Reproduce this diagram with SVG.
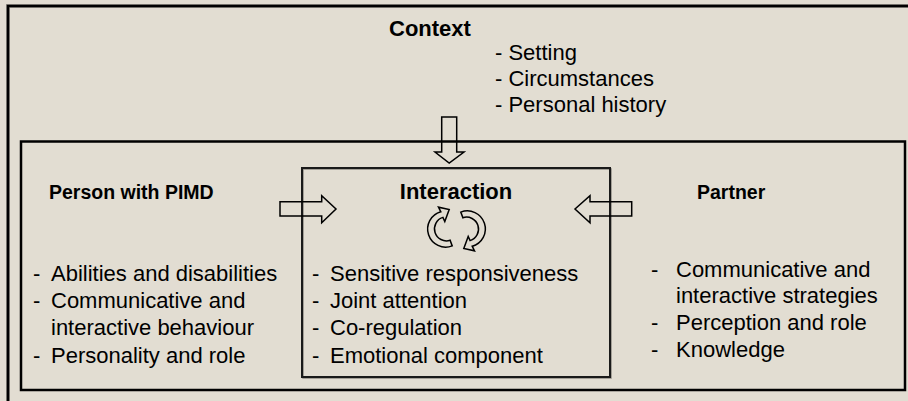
<svg xmlns="http://www.w3.org/2000/svg" width="908" height="401" viewBox="0 0 908 401">
<style>
  .t { font-family: "Liberation Sans", Arial, sans-serif; font-size: 22px; fill: #000; }
  .b { font-family: "Liberation Sans", Arial, sans-serif; font-size: 22px; font-weight: bold; fill: #000; }
  .h { font-family: "Liberation Sans", Arial, sans-serif; font-size: 19.5px; font-weight: bold; fill: #000; }
  .frame { fill: none; stroke: #000; stroke-width: 2.5; }
  .arrow { fill: none; stroke: #000; stroke-width: 1.5; stroke-linejoin: miter; }
</style>
<rect x="0" y="0" width="908" height="401" fill="#E2DDD2"/>
<g id="context">
  <rect x="8" y="6" width="920" height="420" fill="none" stroke="#9a968e" stroke-width="4"/>
  <rect class="frame" x="8" y="6" width="920" height="420"/>
  <text class="b" x="389" y="36">Context</text>
  <text class="t" x="495" y="60">- Setting</text>
  <text class="t" x="495" y="86">- Circumstances</text>
  <text class="t" x="495" y="112">- Personal history</text>
</g>
<g id="inner">
  <rect class="frame" x="21" y="141.5" width="884" height="248.5"/>
</g>
<g id="person">
  <text class="h" x="49" y="199">Person with PIMD</text>
  <text class="t" x="33" y="281">-</text><text class="t" x="51" y="281">Abilities and disabilities</text>
  <text class="t" x="33" y="308">-</text><text class="t" x="51" y="308">Communicative and</text>
  <text class="t" x="51" y="335">interactive behaviour</text>
  <text class="t" x="33" y="363">-</text><text class="t" x="51" y="363">Personality and role</text>
</g>
<g id="interaction">
  <rect x="303" y="169" width="308" height="209" fill="none" stroke="#8f8b84" stroke-width="1.5"/>
  <rect x="302" y="168" width="308" height="209" fill="none" stroke="#1a1a1a" stroke-width="2"/>
  <text class="b" x="456" y="199" text-anchor="middle">Interaction</text>
  <text class="t" x="312" y="281">-</text><text class="t" x="330" y="281">Sensitive responsiveness</text>
  <text class="t" x="312" y="308">-</text><text class="t" x="330" y="308">Joint attention</text>
  <text class="t" x="312" y="335">-</text><text class="t" x="330" y="335">Co-regulation</text>
  <text class="t" x="312" y="363">-</text><text class="t" x="330" y="363">Emotional component</text>
  <g id="cycle" class="arrow">
    <path d="M452.2,245.9 A18,18 0 1 1 440.8,211.8 L438.5,207.2 L449.2,209.6 L444.8,221.6 L442.9,217.4 A12,12 0 1 0 450.1,240.3 Z"/>
    <path d="M452.2,245.9 A18,18 0 1 1 440.8,211.8 L438.5,207.2 L449.2,209.6 L444.8,221.6 L442.9,217.4 A12,12 0 1 0 450.1,240.3 Z" transform="rotate(180 456.5 229)"/>
  </g>
</g>
<g id="partner">
  <text class="h" x="697" y="199">Partner</text>
  <text class="t" x="651" y="277">-</text><text class="t" x="676" y="277">Communicative and</text>
  <text class="t" x="676" y="303">interactive strategies</text>
  <text class="t" x="651" y="330">-</text><text class="t" x="676" y="330">Perception and role</text>
  <text class="t" x="651" y="357">-</text><text class="t" x="676" y="357">Knowledge</text>
</g>
<g id="connectors" class="arrow">
  <polygon points="441.7,117 456.7,117 456.7,152 464,152 449.2,163 435,152 441.7,152"/>
  <polygon points="280,201.7 321.7,201.7 321.7,195.7 336,209 321.7,222.7 321.7,216 280,216"/>
  <polygon points="631.7,201.7 590,201.7 590,195.7 575,209 590,222.7 590,216 631.7,216"/>
</g>
</svg>
